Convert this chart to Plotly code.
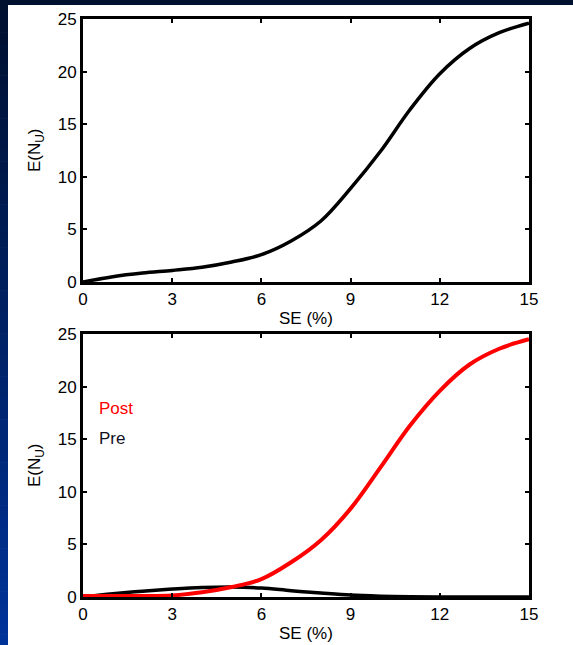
import plotly.graph_objects as go

# Data
se = [0, 1, 2, 3, 4, 5, 6, 7, 8, 9, 10, 11, 12, 13, 14, 15]
top_en = [0.0, 0.5, 0.85, 1.1, 1.4, 1.9, 2.6, 3.9, 5.8, 8.9, 12.4, 16.4, 19.8, 22.2, 23.7, 24.6]
post_en = [0.1, 0.1, 0.1, 0.15, 0.45, 0.95, 1.7, 3.3, 5.4, 8.4, 12.3, 16.3, 19.6, 22.1, 23.6, 24.5]
pre_en = [0.0, 0.3, 0.55, 0.75, 0.9, 0.95, 0.85, 0.6, 0.38, 0.18, 0.08, 0.03, 0.01, 0.0, 0.0, 0.0]
x_ticks = [0, 3, 6, 9, 12, 15]
y_ticks = [0, 5, 10, 15, 20, 25]

W, H = 573, 645
FONT = "Liberation Sans, Arial, sans-serif"
FS = 17

fig = go.Figure()
fig.add_trace(go.Scatter(x=se, y=top_en, mode="lines", line=dict(color="black", width=3.5, shape="spline"),
                         xaxis="x", yaxis="y", showlegend=False))
fig.add_trace(go.Scatter(x=se, y=pre_en, mode="lines", line=dict(color="black", width=3.5, shape="spline"),
                         xaxis="x2", yaxis="y2", showlegend=False))
fig.add_trace(go.Scatter(x=se, y=post_en, mode="lines", line=dict(color="#ff0000", width=4, shape="spline"),
                         xaxis="x2", yaxis="y2", showlegend=False))

xd = [83 / W, 529 / W]
top_dom = [(H - 282) / H, (H - 19) / H]
bot_dom = [(H - 597) / H, (H - 334) / H]

axis_common = dict(showline=True, linewidth=3, linecolor="black", mirror="all",
                   ticks="inside", ticklen=4, tickwidth=2, tickcolor="black",
                   showgrid=False, zeroline=False, automargin=False,
                   tickfont=dict(family=FONT, size=FS, color="black"))

fig.update_layout(
    template="none",
    width=W, height=H,
    margin=dict(l=0, r=0, t=0, b=0, pad=0),
    paper_bgcolor="white", plot_bgcolor="white",
    xaxis=dict(domain=xd, range=[0, 15], tickvals=x_ticks, anchor="y", **axis_common),
    yaxis=dict(domain=top_dom, range=[0, 25], tickvals=y_ticks, anchor="x", **axis_common),
    xaxis2=dict(domain=xd, range=[0, 15], tickvals=x_ticks, anchor="y2", **axis_common),
    yaxis2=dict(domain=bot_dom, range=[0, 25], tickvals=y_ticks, anchor="x2", **axis_common),
)

# Background dark-blue border (top strip and left gradient strip)
shapes = []
shapes.append(dict(type="rect", xref="paper", yref="paper", x0=0, x1=1, y0=(H - 5) / H, y1=1,
                   fillcolor="#00102f", line=dict(width=0), layer="below"))
n = 60
c0 = (0x00, 0x10, 0x2f)
c1 = (0x00, 0x33, 0x99)
for i in range(n):
    t = i / (n - 1)
    col = "rgb(%d,%d,%d)" % tuple(int(c0[k] + (c1[k] - c0[k]) * t) for k in range(3))
    y1 = 1 - i / n
    y0 = 1 - (i + 1) / n
    shapes.append(dict(type="rect", xref="paper", yref="paper", x0=0, x1=8 / W, y0=y0 - 0.001, y1=y1,
                       fillcolor=col, line=dict(width=0), layer="below"))
fig.update_layout(shapes=shapes)

ann = []
# x-axis titles
for yc in (318, 633):
    ann.append(dict(text="SE (%)", xref="paper", yref="paper", x=306 / W, y=(H - yc) / H,
                    showarrow=False, xanchor="center", yanchor="middle",
                    font=dict(family=FONT, size=FS, color="black")))
# y-axis titles
for yc in (150, 465):
    ann.append(dict(text="E(N<sub>U</sub>)", xref="paper", yref="paper", x=36 / W, y=(H - yc) / H,
                    showarrow=False, textangle=-90, xanchor="center", yanchor="middle",
                    font=dict(family=FONT, size=FS, color="black")))
# legend labels
ann.append(dict(text="Post", xref="paper", yref="paper", x=97 / W, y=(H - 408) / H,
                showarrow=False, xanchor="left", yanchor="middle",
                font=dict(family=FONT, size=FS, color="#ff0000")))
ann.append(dict(text="Pre", xref="paper", yref="paper", x=97 / W, y=(H - 439) / H,
                showarrow=False, xanchor="left", yanchor="middle",
                font=dict(family=FONT, size=FS, color="#111122")))
fig.update_layout(annotations=ann)

fig.write_html("out.html")
